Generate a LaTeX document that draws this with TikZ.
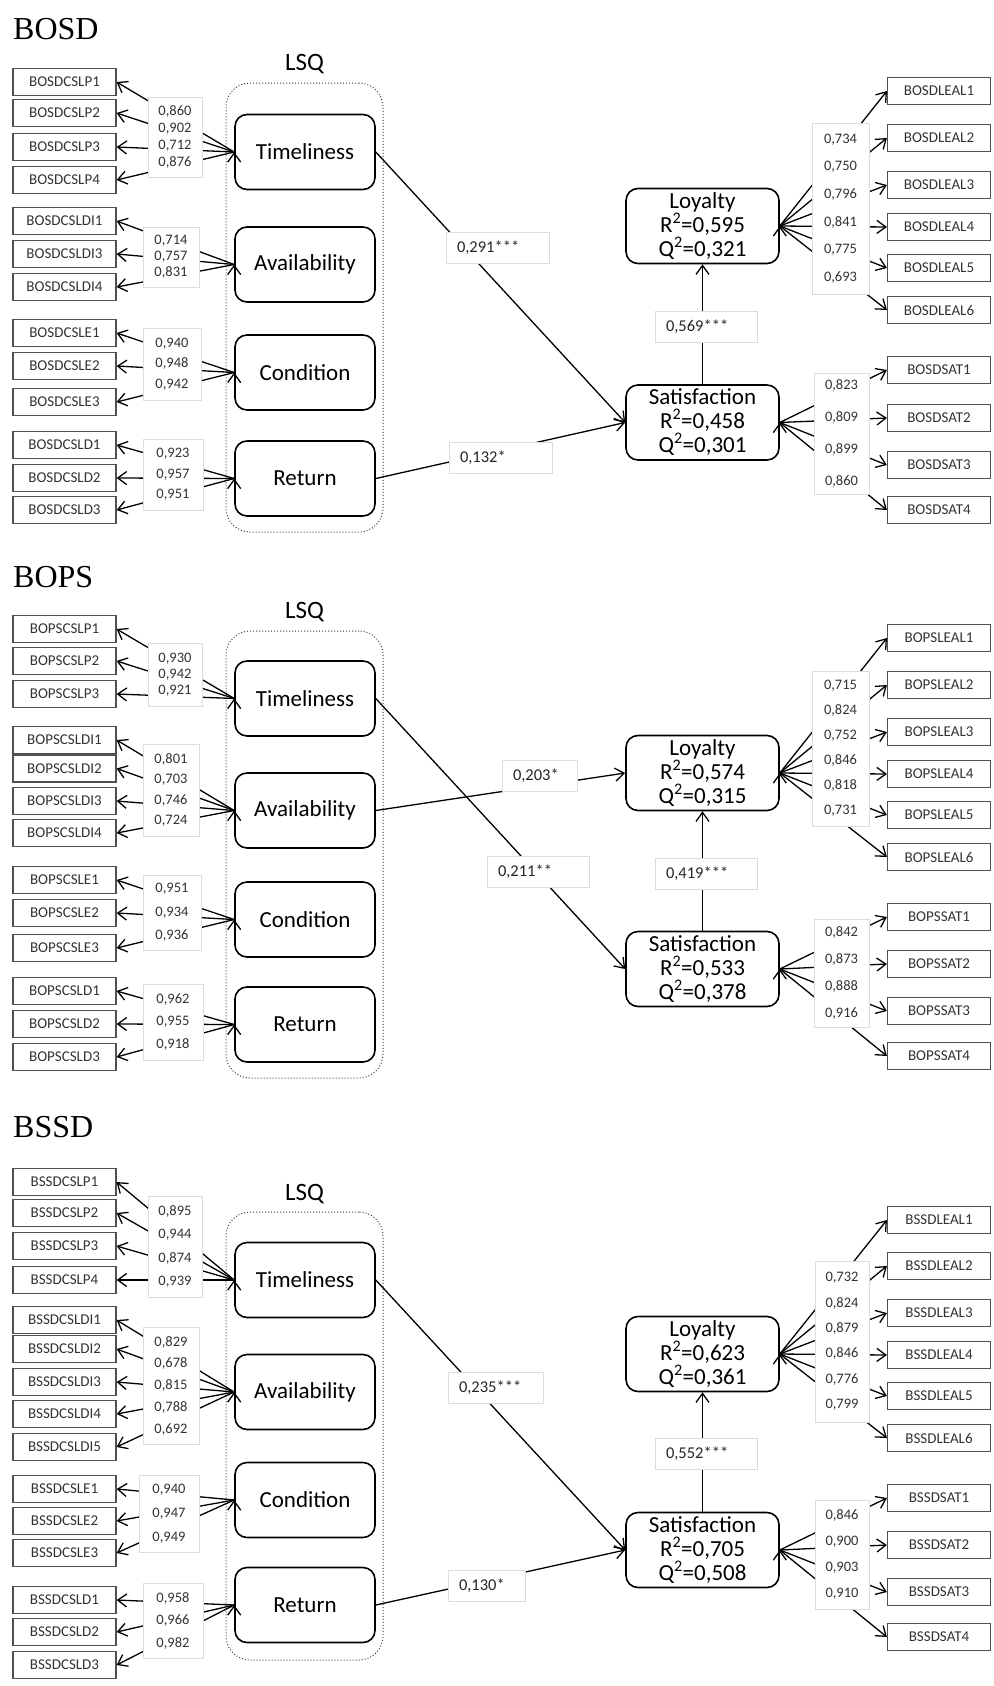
\documentclass[tikz,border=0pt]{standalone}
\usepackage{fontspec}
\setmainfont{Liberation Serif}
\newfontfamily\calib{Carlito}
\usepackage{tikz}
\usepackage{xcolor}
\usetikzlibrary{positioning, arrows.meta}

\definecolor{boxline}{HTML}{DCDCDC}
\definecolor{indline}{HTML}{505050}
\definecolor{indtext}{HTML}{333333}

\begin{document}
\begin{tikzpicture}[
  x=1pt, y=-1pt,
  indic/.style={draw=indline, line width=1.2pt, minimum width=103pt, minimum height=27pt, inner sep=0pt, font=\calib\fontsize{15}{16}\selectfont, text=indtext},
  latent/.style={draw, line width=1.6pt, rounded corners=12pt, minimum width=140pt, minimum height=75pt, inner sep=0pt, font=\calib\fontsize{23}{24}\selectfont, align=center},
  endog/.style={latent, minimum width=153pt},
  lsqbox/.style={draw=black!75, dotted, line width=1pt, rounded corners=24pt, minimum width=157pt},
  lsqlabel/.style={font=\calib\fontsize{25}{27}\selectfont, inner sep=2pt},
  loadbox/.style n args={3}{draw=boxline, fill=white, line width=0.8pt, inner sep=0pt, align=center, minimum width=#1pt, minimum height=#2pt, font=\calib\fontsize{14.5}{#3}\selectfont, text=black!80},
  coefbox/.style={draw=boxline, fill=white, line width=0.8pt, inner xsep=11pt, inner ysep=0pt, minimum height=31pt, text width=#1pt, align=left, font=\calib\fontsize{16.5}{18}\selectfont, text=black!85},
  paneltitle/.style={font=\fontsize{32}{36}\selectfont, inner sep=0pt, anchor=base west},
  conn/.style={->, line width=1.3pt},
  >={Straight Barb[length=9pt,width=13pt]}
]
\useasboundingbox (0,0) rectangle (993,1686);

% ===== BOSD =====
\node[paneltitle] (aTitle) at (13,40) {BOSD};
\node[lsqbox, minimum height=449pt] (aLSQ) at (304.5,307.5) {};
\node[lsqlabel, above=6pt of aLSQ] (aLSQlab) {LSQ};

\node[latent] (aTim) at (305,152) {Timeliness};
\node[latent] (aAva) at (305,264.5) {Availability};
\node[latent] (aCon) at (305,372.5) {Condition};
\node[latent] (aRet) at (305,478.5) {Return};
\node[endog] (aLoy) at (702.5,226) {Loyalty\\R\textsuperscript{2}=0,595\\Q\textsuperscript{2}=0,321};
\node[endog] (aSat) at (702.5,422.5) {Satisfaction\\R\textsuperscript{2}=0,458\\Q\textsuperscript{2}=0,301};

\node[indic] (aLP1) at (64.5,82) {BOSDCSLP1};
\node[indic] (aLP2) at (64.5,113) {BOSDCSLP2};
\node[indic] (aLP3) at (64.5,147) {BOSDCSLP3};
\node[indic] (aLP4) at (64.5,180) {BOSDCSLP4};
\node[indic] (aDI1) at (64.5,221) {BOSDCSLDI1};
\node[indic] (aDI3) at (64.5,254) {BOSDCSLDI3};
\node[indic] (aDI4) at (64.5,287) {BOSDCSLDI4};
\node[indic] (aLE1) at (64.5,333) {BOSDCSLE1};
\node[indic] (aLE2) at (64.5,366) {BOSDCSLE2};
\node[indic] (aLE3) at (64.5,402) {BOSDCSLE3};
\node[indic] (aLD1) at (64.5,445) {BOSDCSLD1};
\node[indic] (aLD2) at (64.5,478) {BOSDCSLD2};
\node[indic] (aLD3) at (64.5,510) {BOSDCSLD3};

\node[indic] (aLEAL1) at (939,91) {BOSDLEAL1};
\node[indic] (aLEAL2) at (939,138) {BOSDLEAL2};
\node[indic] (aLEAL3) at (939,185) {BOSDLEAL3};
\node[indic] (aLEAL4) at (939,227) {BOSDLEAL4};
\node[indic] (aLEAL5) at (939,268) {BOSDLEAL5};
\node[indic] (aLEAL6) at (939,310) {BOSDLEAL6};
\node[indic] (aSAT1) at (939,370) {BOSDSAT1};
\node[indic] (aSAT2) at (939,418) {BOSDSAT2};
\node[indic] (aSAT3) at (939,465) {BOSDSAT3};
\node[indic] (aSAT4) at (939,510) {BOSDSAT4};

% outer loadings
\draw[conn] (aTim.west) edge (aLP1.east) edge (aLP2.east) edge (aLP3.east) edge (aLP4.east);
\draw[conn] (aAva.west) edge (aDI1.east) edge (aDI3.east) edge (aDI4.east);
\draw[conn] (aCon.west) edge (aLE1.east) edge (aLE2.east) edge (aLE3.east);
\draw[conn] (aRet.west) edge (aLD1.east) edge (aLD2.east) edge (aLD3.east);
\draw[conn] (aLoy.east) edge (aLEAL1.west) edge (aLEAL2.west) edge (aLEAL3.west) edge (aLEAL4.west) edge (aLEAL5.west) edge (aLEAL6.west);
\draw[conn] (aSat.east) edge (aSAT1.west) edge (aSAT2.west) edge (aSAT3.west) edge (aSAT4.west);
% structural paths
\draw[conn] (aTim.east) -- (aSat.west);
\draw[conn] (aRet.east) -- (aSat.west);
\draw[conn] (aSat.north) -- (aLoy.south);

\node[loadbox={54}{80}{17}] (aTimL) at (175,137) {0,860\\0,902\\0,712\\0,876};
\node[loadbox={56}{60}{16}] (aAvaL) at (171,257) {0,714\\0,757\\0,831};
\node[loadbox={58}{72}{20.5}] (aConL) at (172,364) {0,940\\0,948\\0,942};
\node[loadbox={60}{71}{20.5}] (aRetL) at (173,474.5) {0,923\\0,957\\0,951};
\node[loadbox={57}{171}{27.6}] (aLoyL) at (840.5,208.5) {0,734\\0,750\\0,796\\0,841\\0,775\\0,693};
\node[loadbox={55}{121}{31.7}] (aSatL) at (841.5,433.5) {0,823\\0,809\\0,899\\0,860};
\node[coefbox=81] (aTSc) at (497.5,247.5) {0,291***};
\node[coefbox=81] (aRSc) at (500.5,457.5) {0,132*};
\node[coefbox=80] (aSLc) at (706,327) {0,569***};

% ===== BOPS =====
\node[paneltitle] (bTitle) at (13,587) {BOPS};
\node[lsqbox, minimum height=447pt] (bLSQ) at (304.5,854.5) {};
\node[lsqlabel, above=6pt of bLSQ] (bLSQlab) {LSQ};

\node[latent] (bTim) at (305,698.5) {Timeliness};
\node[latent] (bAva) at (305,810.5) {Availability};
\node[latent] (bCon) at (305,919.5) {Condition};
\node[latent] (bRet) at (305,1024.5) {Return};
\node[endog] (bLoy) at (702.5,773) {Loyalty\\R\textsuperscript{2}=0,574\\Q\textsuperscript{2}=0,315};
\node[endog] (bSat) at (702.5,969) {Satisfaction\\R\textsuperscript{2}=0,533\\Q\textsuperscript{2}=0,378};

\node[indic] (bLP1) at (64.5,629) {BOPSCSLP1};
\node[indic] (bLP2) at (64.5,661) {BOPSCSLP2};
\node[indic] (bLP3) at (64.5,694) {BOPSCSLP3};
\node[indic] (bDI1) at (64.5,740) {BOPSCSLDI1};
\node[indic] (bDI2) at (64.5,768.5) {BOPSCSLDI2};
\node[indic] (bDI3) at (64.5,801) {BOPSCSLDI3};
\node[indic] (bDI4) at (64.5,833) {BOPSCSLDI4};
\node[indic] (bLE1) at (64.5,880) {BOPSCSLE1};
\node[indic] (bLE2) at (64.5,913) {BOPSCSLE2};
\node[indic] (bLE3) at (64.5,948) {BOPSCSLE3};
\node[indic] (bLD1) at (64.5,991) {BOPSCSLD1};
\node[indic] (bLD2) at (64.5,1024) {BOPSCSLD2};
\node[indic] (bLD3) at (64.5,1057) {BOPSCSLD3};

\node[indic] (bLEAL1) at (939,638) {BOPSLEAL1};
\node[indic] (bLEAL2) at (939,685) {BOPSLEAL2};
\node[indic] (bLEAL3) at (939,732) {BOPSLEAL3};
\node[indic] (bLEAL4) at (939,774) {BOPSLEAL4};
\node[indic] (bLEAL5) at (939,815) {BOPSLEAL5};
\node[indic] (bLEAL6) at (939,857) {BOPSLEAL6};
\node[indic] (bSAT1) at (939,917) {BOPSSAT1};
\node[indic] (bSAT2) at (939,964) {BOPSSAT2};
\node[indic] (bSAT3) at (939,1011) {BOPSSAT3};
\node[indic] (bSAT4) at (939,1056) {BOPSSAT4};

% outer loadings
\draw[conn] (bTim.west) edge (bLP1.east) edge (bLP2.east) edge (bLP3.east);
\draw[conn] (bAva.west) edge (bDI1.east) edge (bDI2.east) edge (bDI3.east) edge (bDI4.east);
\draw[conn] (bCon.west) edge (bLE1.east) edge (bLE2.east) edge (bLE3.east);
\draw[conn] (bRet.west) edge (bLD1.east) edge (bLD2.east) edge (bLD3.east);
\draw[conn] (bLoy.east) edge (bLEAL1.west) edge (bLEAL2.west) edge (bLEAL3.west) edge (bLEAL4.west) edge (bLEAL5.west) edge (bLEAL6.west);
\draw[conn] (bSat.east) edge (bSAT1.west) edge (bSAT2.west) edge (bSAT3.west) edge (bSAT4.west);
% structural paths
\draw[conn] (bTim.east) -- (bSat.west);
\draw[conn] (bAva.east) -- (bLoy.west);
\draw[conn] (bSat.north) -- (bLoy.south);

\node[loadbox={54}{63}{16}] (bTimL) at (175,674.5) {0,930\\0,942\\0,921};
\node[loadbox={56}{92}{20.3}] (bAvaL) at (171,790) {0,801\\0,703\\0,746\\0,724};
\node[loadbox={58}{75}{23.5}] (bConL) at (172,912.5) {0,951\\0,934\\0,936};
\node[loadbox={60}{76}{22.5}] (bRetL) at (173,1022) {0,962\\0,955\\0,918};
\node[loadbox={57}{155}{25}] (bLoyL) at (840.5,748.5) {0,715\\0,824\\0,752\\0,846\\0,818\\0,731};
\node[loadbox={55}{108}{26.7}] (bSatL) at (841.5,973) {0,842\\0,873\\0,888\\0,916};
\node[coefbox=53] (bALc) at (539.5,775.5) {0,203*};
\node[coefbox=80] (bTSc) at (538,872) {0,211**};
\node[coefbox=80] (bSLc) at (706,874) {0,419***};

% ===== BSSD =====
\node[paneltitle] (cTitle) at (13,1137) {BSSD};
\node[lsqbox, minimum height=448pt] (cLSQ) at (304.5,1436) {};
\node[lsqlabel, above=6pt of cLSQ] (cLSQlab) {LSQ};

\node[latent] (cTim) at (305,1280) {Timeliness};
\node[latent] (cAva) at (305,1392) {Availability};
\node[latent] (cCon) at (305,1500) {Condition};
\node[latent] (cRet) at (305,1605) {Return};
\node[endog] (cLoy) at (702.5,1354) {Loyalty\\R\textsuperscript{2}=0,623\\Q\textsuperscript{2}=0,361};
\node[endog] (cSat) at (702.5,1550) {Satisfaction\\R\textsuperscript{2}=0,705\\Q\textsuperscript{2}=0,508};

\node[indic] (cLP1) at (64.5,1182) {BSSDCSLP1};
\node[indic] (cLP2) at (64.5,1213) {BSSDCSLP2};
\node[indic] (cLP3) at (64.5,1246) {BSSDCSLP3};
\node[indic] (cLP4) at (64.5,1280) {BSSDCSLP4};
\node[indic] (cDI1) at (64.5,1320) {BSSDCSLDI1};
\node[indic] (cDI2) at (64.5,1349) {BSSDCSLDI2};
\node[indic] (cDI3) at (64.5,1382) {BSSDCSLDI3};
\node[indic] (cDI4) at (64.5,1414) {BSSDCSLDI4};
\node[indic] (cDI5) at (64.5,1447) {BSSDCSLDI5};
\node[indic] (cLE1) at (64.5,1489) {BSSDCSLE1};
\node[indic] (cLE2) at (64.5,1521) {BSSDCSLE2};
\node[indic] (cLE3) at (64.5,1553) {BSSDCSLE3};
\node[indic] (cLD1) at (64.5,1600) {BSSDCSLD1};
\node[indic] (cLD2) at (64.5,1632) {BSSDCSLD2};
\node[indic] (cLD3) at (64.5,1665) {BSSDCSLD3};

\node[indic] (cLEAL1) at (939,1220) {BSSDLEAL1};
\node[indic] (cLEAL2) at (939,1266) {BSSDLEAL2};
\node[indic] (cLEAL3) at (939,1313) {BSSDLEAL3};
\node[indic] (cLEAL4) at (939,1355) {BSSDLEAL4};
\node[indic] (cLEAL5) at (939,1396) {BSSDLEAL5};
\node[indic] (cLEAL6) at (939,1438) {BSSDLEAL6};
\node[indic] (cSAT1) at (939,1498) {BSSDSAT1};
\node[indic] (cSAT2) at (939,1545) {BSSDSAT2};
\node[indic] (cSAT3) at (939,1592) {BSSDSAT3};
\node[indic] (cSAT4) at (939,1637) {BSSDSAT4};

% outer loadings
\draw[conn] (cTim.west) edge (cLP1.east) edge (cLP2.east) edge (cLP3.east) edge (cLP4.east);
\draw[conn] (cAva.west) edge (cDI1.east) edge (cDI2.east) edge (cDI3.east) edge (cDI4.east) edge (cDI5.east);
\draw[conn] (cCon.west) edge (cLE1.east) edge (cLE2.east) edge (cLE3.east);
\draw[conn] (cRet.west) edge (cLD1.east) edge (cLD2.east) edge (cLD3.east);
\draw[conn] (cLoy.east) edge (cLEAL1.west) edge (cLEAL2.west) edge (cLEAL3.west) edge (cLEAL4.west) edge (cLEAL5.west) edge (cLEAL6.west);
\draw[conn] (cSat.east) edge (cSAT1.west) edge (cSAT2.west) edge (cSAT3.west) edge (cSAT4.west);
% structural paths
\draw[conn] (cTim.east) -- (cSat.west);
\draw[conn] (cRet.east) -- (cSat.west);
\draw[conn] (cSat.north) -- (cLoy.south);

\node[loadbox={54}{101}{23.3}] (cTimL) at (175,1246.5) {0,895\\0,944\\0,874\\0,939};
\node[loadbox={56}{117}{21.75}] (cAvaL) at (171,1385.5) {0,829\\0,678\\0,815\\0,788\\0,692};
\node[loadbox={60}{77}{24}] (cConL) at (169,1513.5) {0,940\\0,947\\0,949};
\node[loadbox={60}{75}{22.5}] (cRetL) at (173,1620.5) {0,958\\0,966\\0,982};
\node[loadbox={54}{161}{25.4}] (cLoyL) at (842,1341.5) {0,732\\0,824\\0,879\\0,846\\0,776\\0,799};
\node[loadbox={54}{109}{26.3}] (cSatL) at (842,1554.5) {0,846\\0,900\\0,903\\0,910};
\node[coefbox=73] (cTSc) at (495.5,1387.5) {0,235***};
\node[coefbox=55] (cRSc) at (486.5,1585.5) {0,130*};
\node[coefbox=80] (cSLc) at (706,1454) {0,552***};

\end{tikzpicture}
\end{document}
